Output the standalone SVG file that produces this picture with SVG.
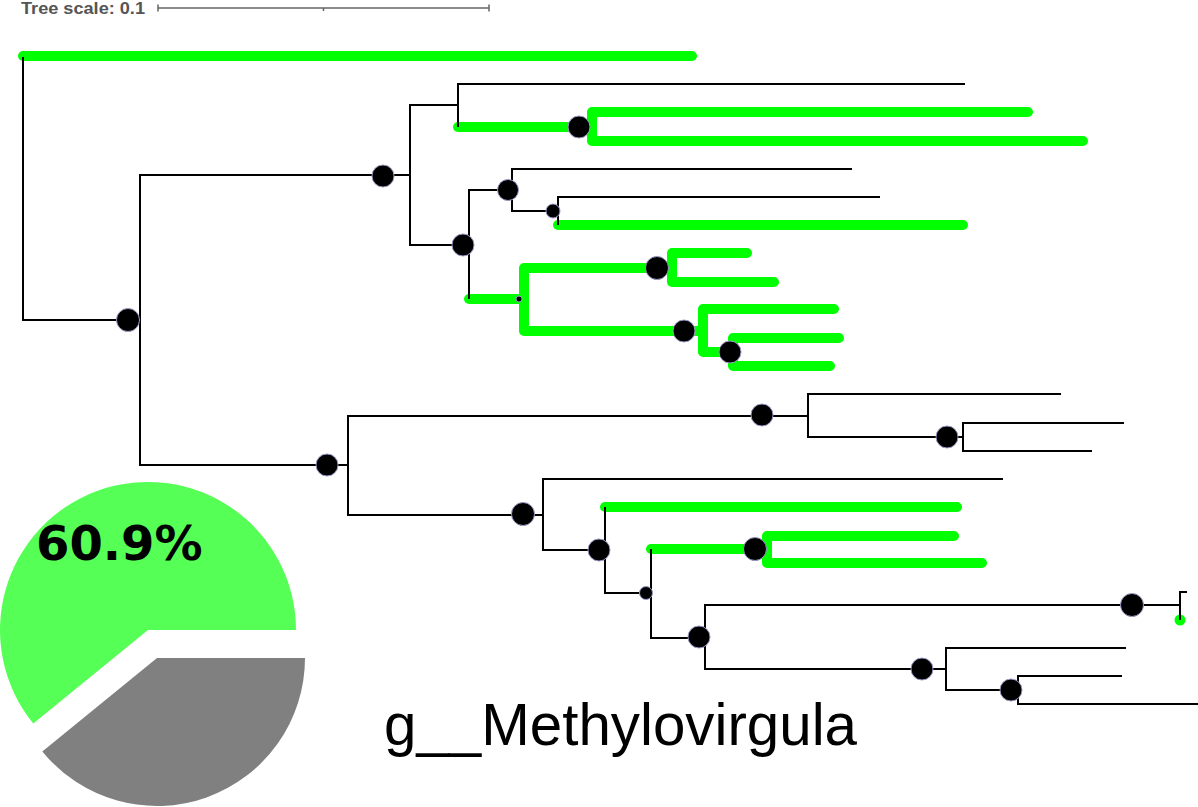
<svg xmlns="http://www.w3.org/2000/svg" width="1198" height="807" viewBox="0 0 1198 807">
<style>
.br{fill:none;stroke:#000;stroke-width:2;stroke-linecap:butt}
.gr{fill:none;stroke:#00ff00;stroke-width:10;stroke-linecap:round;stroke-linejoin:round}
.nd{fill:#000;stroke:#9a9ac8;stroke-width:1}
.sc{fill:none;stroke:#666;stroke-width:1.5}
</style>
<rect width="1198" height="807" fill="#fff"/>
<g id="scale">
<text x="21" y="14" font-family="Liberation Sans, Arial, sans-serif" font-weight="bold" font-size="16" fill="#555" textLength="124" lengthAdjust="spacingAndGlyphs">Tree scale: 0.1</text>
<path class="sc" d="M158,8 H489 M158,4.5 V11.5 M489,4.5 V11.5 M323.5,8 V11"/>
</g>
<g id="connectors">
<g id="green-branches">
<path class="gr" d="M23,56 H692"/>
<path class="gr" d="M458,127 H592"/>
<path class="gr" d="M1028,112 H592 V141 H1083"/>
<path class="gr" d="M558,225 H963"/>
<path class="gr" d="M469,299 H524"/>
<path class="gr" d="M672,268 H524 V331 H703"/>
<path class="gr" d="M747,253 H672 V282 H774"/>
<path class="gr" d="M834,309 H703 V352 H733"/>
<path class="gr" d="M839,338 H733 V366 H830"/>
<path class="gr" d="M605,507 H957"/>
<path class="gr" d="M651,549 H767"/>
<path class="gr" d="M954,536 H767 V563 H982"/>
<circle cx="1180" cy="620" r="5.5" fill="#00ff00"/>
</g>
<g id="black-branches">
<path class="br" d="M23,57 V320 H140"/>
<path class="br" d="M410,175 H140 V465 H348"/>
<path class="br" d="M458,105 H410 V245 H469"/>
<path class="br" d="M965,84 H458 V127"/>
<path class="br" d="M512,190 H469 V299"/>
<path class="br" d="M852,169 H512 V211 H558"/>
<path class="br" d="M880,197 H558 V225"/>
<path class="br" d="M808,416 H348 V515 H543"/>
<path class="br" d="M1061,394 H808 V437 H963"/>
<path class="br" d="M1124,423 H963 V451 H1092"/>
<path class="br" d="M1003,479 H543 V550 H605"/>
<path class="br" d="M605,507 V593 H651"/>
<path class="br" d="M651,549 V638 H705"/>
<path class="br" d="M1180,605 H705 V669 H946"/>
<path class="br" d="M1187,592 H1180 V620"/>
<path class="br" d="M1126,648 H946 V690 H1018"/>
<path class="br" d="M1122,676 H1018 V704 H1198"/>
</g>
</g>
<g id="n1"><circle class="nd" cx="128" cy="320" r="11.5"/></g>
<g id="n2"><circle class="nd" cx="383" cy="176" r="11"/></g>
<g id="n3"><circle class="nd" cx="579" cy="127" r="11"/></g>
<g id="n4"><circle class="nd" cx="508" cy="190" r="10.5"/></g>
<g id="n5"><circle class="nd" cx="553" cy="211" r="7"/></g>
<g id="n6"><circle class="nd" cx="463" cy="245" r="11"/></g>
<g id="n7"><circle class="nd" cx="519" cy="299" r="3"/></g>
<g id="n8"><circle class="nd" cx="657" cy="268" r="11.5"/></g>
<g id="n9"><circle class="nd" cx="684" cy="331" r="11"/></g>
<g id="n10"><circle class="nd" cx="730" cy="352" r="11"/></g>
<g id="n11"><circle class="nd" cx="327" cy="465" r="11"/></g>
<g id="n12"><circle class="nd" cx="762" cy="415" r="11"/></g>
<g id="n13"><circle class="nd" cx="947" cy="437" r="11"/></g>
<g id="n14"><circle class="nd" cx="523" cy="514" r="11.5"/></g>
<g id="n15"><circle class="nd" cx="599" cy="550" r="11"/></g>
<g id="n16"><circle class="nd" cx="755" cy="549" r="11.5"/></g>
<g id="n17"><circle class="nd" cx="646" cy="593" r="6.5"/></g>
<g id="n18"><circle class="nd" cx="699" cy="637" r="11"/></g>
<g id="n19"><circle class="nd" cx="1132" cy="605" r="11.5"/></g>
<g id="n20"><circle class="nd" cx="922" cy="669" r="11"/></g>
<g id="n21"><circle class="nd" cx="1011" cy="690" r="11"/></g>
<g id="pie">
<path d="M148,630 H296 A148,148 0 1,0 33.3,723.5 Z" fill="#55ff55"/>
<path d="M157,658 H305 A148,148 0 0,1 42.3,751.5 Z" fill="#808080"/>
<text x="36" y="560" font-family="DejaVu Sans, sans-serif" font-weight="bold" font-size="48" fill="#000">60.9%</text>
</g>
<g id="label">
<text x="384" y="745" font-family="Liberation Sans, Arial, sans-serif" font-size="58.5" fill="#000" textLength="473" lengthAdjust="spacingAndGlyphs">g__Methylovirgula</text>
</g>
</svg>
